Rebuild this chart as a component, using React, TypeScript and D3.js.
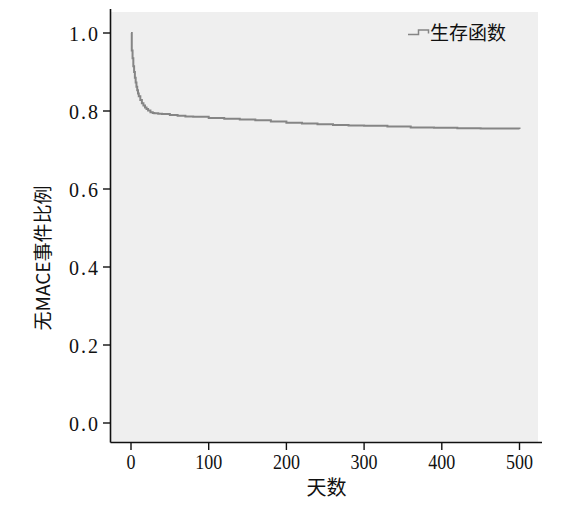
import React from "react";
import * as d3 from "d3";

const days = [0, 1, 2, 3, 4, 5, 6, 7, 8, 9, 10, 12, 14, 16, 18, 20, 22, 25, 28, 30, 35, 40, 50, 60, 70, 80, 100, 120, 140, 160, 180, 200, 220, 240, 260, 280, 300, 330, 360, 390, 420, 450, 480, 500];
const survival = [1.0, 0.955, 0.935, 0.915, 0.9, 0.885, 0.873, 0.862, 0.853, 0.845, 0.838, 0.828, 0.82, 0.814, 0.809, 0.805, 0.801, 0.797, 0.795, 0.794, 0.793, 0.792, 0.79, 0.788, 0.786, 0.785, 0.782, 0.78, 0.778, 0.776, 0.773, 0.77, 0.768, 0.766, 0.764, 0.763, 0.762, 0.76, 0.758, 0.757, 0.756, 0.755, 0.755, 0.754];
const xTicks = [0, 100, 200, 300, 400, 500];
const yTicks = [0, 0.2, 0.4, 0.6, 0.8, 1.0];
const xTitle = "天数";
const yTitle = "无MACE事件比例";
const legendLabel = "生存函数";

export default function App() {
  const x = d3.scaleLinear().domain([0, 500]).range([131, 519.5]);
  const y = d3.scaleLinear().domain([0, 1]).range([423, 33]);
  const pts = days.map((d, i) => [d, survival[i]] as [number, number]);
  const line = d3
    .line<[number, number]>()
    .x((d) => x(d[0]))
    .y((d) => y(d[1]))
    .curve(d3.curveStepAfter);

  const axisLeft = 110.5;
  const axisBottom = 442.5;
  const serif = "'Liberation Serif', 'DejaVu Serif', serif";
  const cjk = "'Noto Sans CJK SC', sans-serif";

  return (
    <div style={{ position: "absolute", left: 0, top: 0 }}>
      <svg width={574} height={513} style={{ display: "block", background: "#fff" }}>
        <rect x={111} y={12} width={427} height={430} fill="#efefef" />
        <path d={line(pts) || ""} fill="none" stroke="#858585" strokeWidth={2} />
        {/* axes */}
        <line x1={axisLeft} x2={axisLeft} y1={9} y2={axisBottom} stroke="#111" strokeWidth={1.6} />
        <line x1={axisLeft} x2={542} y1={axisBottom} y2={axisBottom} stroke="#111" strokeWidth={1.6} />
        {yTicks.map((t) => (
          <g key={"y" + t}>
            <line x1={103} x2={axisLeft} y1={y(t)} y2={y(t)} stroke="#111" strokeWidth={1.4} />
            <text
              x={100}
              y={y(t) + 7.7}
              textAnchor="end"
              fontFamily={serif}
              fontSize={20}
              letterSpacing={2}
              fill="#111"
            >
              {t.toFixed(1)}
            </text>
          </g>
        ))}
        {xTicks.map((t) => (
          <g key={"x" + t} transform={`translate(${x(t)},468.5)`}>
            <line x1={0} x2={0} y1={axisBottom - 468.5} y2={450 - 468.5} stroke="#111" strokeWidth={1.4} />
            <text transform="scale(0.9,1)" textAnchor="middle" fontFamily={serif} fontSize={20} fill="#111">
              {t}
            </text>
          </g>
        ))}
        <text x={326.5} y={495} textAnchor="middle" fontFamily={cjk} fontSize={20} fill="#111">
          {xTitle}
        </text>
        <text
          transform="translate(50,258) rotate(-90)"
          textAnchor="middle"
          fontFamily={cjk}
          fontSize={19}
          fill="#111"
        >
          {yTitle}
        </text>
        {/* legend */}
        <path d="M408,34.5 H418.5 V30 H428.5 V33.5" fill="none" stroke="#858585" strokeWidth={1.5} />
        <text x={430} y={40} fontFamily={cjk} fontSize={19} fill="#111">
          {legendLabel}
        </text>
      </svg>
    </div>
  );
}
